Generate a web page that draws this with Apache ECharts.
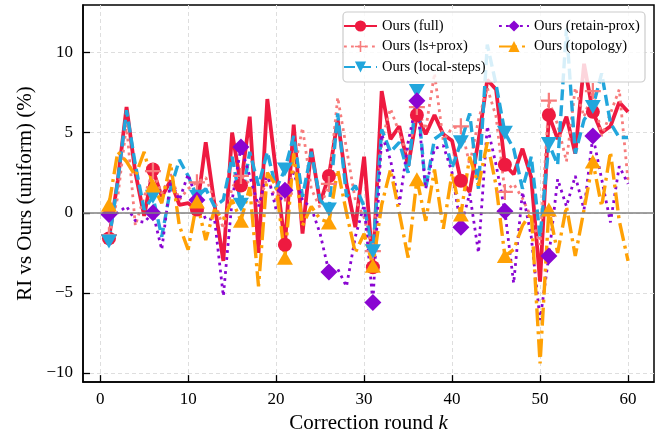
<!DOCTYPE html>
<html><head><meta charset="utf-8">
<script src="https://cdn.jsdelivr.net/npm/echarts@6/dist/echarts.min.js"></script>
<style>html,body{margin:0;padding:0;background:#fff}#c{width:663px;height:439px}</style>
</head><body><div id="c"></div>
<script>
const rounds = [1,2,3,4,5,6,7,8,9,10,11,12,13,14,15,16,17,18,19,20,21,22,23,24,25,26,27,28,29,30,31,32,33,34,35,36,37,38,39,40,41,42,43,44,45,46,47,48,49,50,51,52,53,54,55,56,57,58,59,60];
const full = [-1.6,2.0,6.6,2.5,-0.2,2.7,1.0,2.0,0.5,0.6, 0.2,4.4,0.5,-3.0,5.0,1.7,6.0,-2.5,7.1,2.5, -2.0,5.5,-1.3,4.0,0.6,2.3,5.8,1.8,-0.9,3.5, -3.4,7.6,4.6,5.4,2.9,6.1,4.9,6.1,4.9,4.5, 2.0,1.3,4.5,8.3,7.7,3.0,2.4,4.0,2.2,-4.3, 6.1,4.6,6.0,3.7,9.3,6.3,5.0,5.4,6.9,6.3];
const lsProx = [-1.4,1.0,5.5,-0.8,1.0,2.6,1.2,2.4,0.8,1.5, 1.9,2.2,0.8,-1.0,1.6,2.3,1.8,0.5,2.2,0.8, 1.2,2.5,5.3,1.5,0.3,1.8,7.2,4.0,0.8,-0.3, -2.4,4.5,6.5,5.0,3.5,6.6,5.2,8.7,4.5,5.3, 5.4,3.0,5.8,7.8,6.0,1.3,1.8,0.9,-0.3,-2.0, 7.0,5.5,3.2,7.8,6.0,7.6,4.8,6.2,7.7,2.0];
const localSteps = [-1.8,2.0,6.4,3.0,0.2,1.0,-1.5,1.5,3.3,2.3, 1.0,1.5,0.4,0.8,3.5,0.5,3.8,1.7,3.8,1.5, 2.7,4.8,1.0,3.8,0.8,0.2,6.2,1.0,1.7,0.4, -2.4,5.2,3.8,4.4,2.5,7.6,1.5,4.6,5.0,2.8, 4.4,6.2,1.5,10.5,8.0,5.0,4.0,1.5,3.5,-1.5, 4.3,3.0,11.5,3.7,5.8,6.6,8.7,5.6,4.7,4.7];
const retainProx = [-0.1,0.0,0.4,-0.5,-0.6,0.0,-2.3,2.0,0.8,2.4, 0.8,-0.4,-0.4,-5.2,0.8,4.1,2.3,0.4,2.5,0.2, 1.4,2.5,0.8,0.3,-1.3,-3.7,-3.5,-4.6,-1.5,0.5, -5.6,4.9,3.3,0.5,4.4,7.0,1.5,4.0,4.2,2.5, -0.9,1.2,-2.5,5.4,3.0,0.1,-4.4,1.3,-1.5,-6.7, -2.7,2.1,0.4,2.3,0.2,4.8,2.1,-0.6,2.9,1.8];
const topology = [0.5,3.8,3.2,2.3,3.8,1.7,0.6,3.1,-0.8,-2.3, 0.7,-1.7,0.2,-0.4,0.8,-0.5,1.6,-4.6,2.5,1.7, -2.8,3.7,-0.8,0.4,-0.4,-0.6,2.7,0.0,-2.5,-1.3, -3.3,0.5,2.7,0.0,-2.8,2.1,-0.5,2.7,-1.0,2.5, -0.1,3.5,1.7,4.4,1.7,-2.7,-2.3,-0.8,0.0,-9.4, 0.2,-2.5,0.4,-2.7,0.2,3.2,0.4,3.8,-0.5,-3.0];
const xTicks = [0,10,20,30,40,50,60];
const yTicks = [-10,-5,0,5,10];
const names = ['Ours (full)','Ours (ls+prox)','Ours (local-steps)','Ours (retain-prox)','Ours (topology)'];

const FONT = '"Liberation Serif","DejaVu Serif",serif';
const PLUS = 'path://M0.43,0 H0.57 V0.43 H1 V0.57 H0.57 V1 H0.43 V0.57 H0 V0.43 H0.43 Z';
const TRI_DOWN = 'path://M0,0 L1,0 L0.5,0.87 Z';
const TRI_UP = 'path://M0.5,0 L1,0.87 L0,0.87 Z';

function mk(name, vals, color, lineType, width, symbol, size){
  return {
    name, type:'line', data: rounds.map((k,i)=>[k, vals[i]]),
    showSymbol:true, showAllSymbol:true, symbol,
    symbolSize:(v,p)=> (p.dataIndex % 5 === 0 ? size : 0),
    lineStyle:{color, width, type: lineType, cap:'butt'},
    itemStyle:{color}, emphasis:{disabled:true}, animation:false, z:2
  };
}
const series = [
  mk(names[0], full, '#ee1a40', 'solid', 3.8, 'circle', 14),
  mk(names[1], lsProx, '#f77c7c', [2.8,4.2], 2.8, PLUS, 16),
  mk(names[2], localSteps, '#22a6dc', [11,5], 3.4, TRI_DOWN, [16,14]),
  mk(names[3], retainProx, '#8a05d2', [2.8,4.2], 2.8, 'diamond', [17,17]),
  mk(names[4], topology, '#ffa105', [18,5,3,5], 3.4, TRI_UP, [16,14])
];
series[0].markLine = {silent:true, symbol:'none', label:{show:false}, lineStyle:{color:'#808080', width:1.6, type:'solid'}, data:[{yAxis:0}]};

const isTick = (arr,v)=> arr.some(t=>Math.abs(t-v)<1e-6);
const fmt = (arr)=> v => isTick(arr,v) ? String(v).replace('-', '\u2212') : '';

const chart = echarts.init(document.getElementById('c'), null, {renderer:'canvas'});
chart.setOption({
  animation:false,
  backgroundColor:'#fff',
  grid:{left:83, right:9, top:5, bottom:56, show:true, borderColor:'#000', borderWidth:1.5, backgroundColor:'transparent'},
  xAxis:{type:'value', min:-1.95, max:62.95, splitNumber:7,
    name:'Correction round {i|k}', nameLocation:'middle', nameGap:30,
    nameTextStyle:{fontFamily:FONT, fontSize:21, color:'#000', rich:{i:{fontFamily:FONT, fontStyle:'italic', fontSize:21}}},
    axisLine:{show:true, onZero:false, lineStyle:{color:'#000', width:1.5}},
    axisTick:{show:true, inside:true, length:7, lineStyle:{color:'#000', width:1.3}, customValues: xTicks},
    axisLabel:{fontFamily:FONT, fontSize:17, color:'#000', margin:9, formatter: fmt(xTicks), customValues: xTicks},
    splitLine:{show:true, lineStyle:{color:'#dedede', width:1, type:[4,3]}}
  },
  yAxis:{type:'value', min:-10.57, max:12.97,
    name:'RI vs Ours (uniform) (%)', nameLocation:'middle', nameGap:47,
    nameTextStyle:{fontFamily:FONT, fontSize:21, color:'#000'},
    axisLine:{show:true, onZero:false, lineStyle:{color:'#000', width:1.5}},
    axisTick:{show:true, inside:true, length:7, lineStyle:{color:'#000', width:1.3}, customValues: yTicks},
    axisLabel:{fontFamily:FONT, fontSize:17, color:'#000', margin:10, formatter: fmt(yTicks), customValues: yTicks},
    splitLine:{show:true, lineStyle:{color:'#dedede', width:1, type:[4,3]}}
  },
  graphic:[{type:'rect', z:3, shape:{x:343, y:12, width:302, height:70, r:4},
    style:{fill:'rgba(255,255,255,0.82)', stroke:'#cccccc', lineWidth:1.2}}],
  legend:[
    {data:names.slice(0,3), orient:'vertical', left:343, top:18, padding:0, itemWidth:33, itemHeight:14, itemGap:4.5,
     textStyle:{fontFamily:FONT, fontSize:14.5, color:'#000', lineHeight:16}, selectedMode:false, z:5},
    {data:names.slice(3), orient:'vertical', left:498, top:18, padding:0, itemWidth:30, itemHeight:14, itemGap:4.5,
     textStyle:{fontFamily:FONT, fontSize:14.5, color:'#000', lineHeight:16}, selectedMode:false, z:5}
  ],
  series
});
</script></body></html>
